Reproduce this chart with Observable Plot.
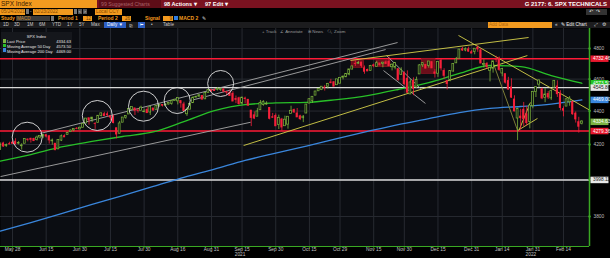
<!DOCTYPE html>
<html><head><meta charset="utf-8">
<script src="https://cdn.jsdelivr.net/npm/d3@7"></script>
<script src="https://cdn.jsdelivr.net/npm/@observablehq/plot@0.6"></script>
<style>
html,body{margin:0;padding:0;background:#000;}
body{width:610px;height:258px;overflow:hidden;position:relative;font-family:"Liberation Sans",Arial,sans-serif;}
.a{position:absolute;white-space:nowrap;line-height:1;}
.box{position:absolute;box-sizing:border-box;white-space:nowrap;}
#chart{position:absolute;left:0;top:28px;}
</style></head><body>
<!-- row 1 -->
<div class="box" style="left:0;top:0;width:610px;height:8px;background:#7a1220"></div>
<div class="box" style="left:0;top:0;width:97px;height:8px;background:#f29a1f;color:#3b1a00;font-size:6.5px;line-height:8px;padding-left:1px">SPX Index</div>
<div class="box" style="left:99px;top:0;width:62px;height:8px;background:#5e0d17;color:#a8626a;font-size:5.2px;line-height:8px;padding-left:2px">99 Suggested Charts</div>
<div class="box" style="left:164px;top:0;height:8px;color:#fff;font-size:5.6px;font-weight:bold;line-height:8px">98 Actions ▾</div>
<div class="box" style="left:205px;top:0;height:8px;color:#fff;font-size:5.6px;font-weight:bold;line-height:8px">97 Edit ▾</div>
<div class="box" style="right:3px;top:0;height:8px;color:#fff;font-size:6px;font-weight:bold;line-height:8px">G 2177: 6. SPX TECHNICALS</div>
<!-- row 2 -->
<div class="box" style="left:0;top:8.5px;width:25px;height:6px;background:#f29a1f;color:#8a4c00;font-size:4.8px;line-height:6px;padding-left:1px">05/24/2021</div>
<div class="box" style="left:26px;top:9px;width:3px;height:5px;background:#777"></div>
<div class="a" style="left:30px;top:9.5px;color:#ddd;font-size:4.8px">-</div>
<div class="box" style="left:33px;top:8.5px;width:40px;height:6px;background:#f29a1f;color:#8a4c00;font-size:4.8px;line-height:6px;padding-left:1px">02/23/2022</div>
<div class="box" style="left:74px;top:9px;width:3px;height:5px;background:#777"></div>
<div class="box" style="left:78px;top:9px;width:4px;height:5px;background:#555;color:#ddd;font-size:4px;line-height:5px;text-align:center">&lt;</div>
<div class="box" style="left:83px;top:9px;width:4px;height:5px;background:#555;color:#ddd;font-size:4px;line-height:5px;text-align:center">&gt;</div>
<div class="box" style="left:95px;top:8.5px;width:27px;height:6px;background:#f29a1f;color:#8a4c00;font-size:4.8px;line-height:6px;padding-left:1px">Local CCY</div>
<div class="box" style="left:586px;top:8.5px;width:21px;height:6px;background:#333;color:#ddd;font-size:4.6px;line-height:6px;padding-left:3px">↶&nbsp;&nbsp;↷</div>
<!-- row 3 -->
<div class="a" style="left:1px;top:16px;color:#f29a1f;font-size:5px;font-weight:bold">Study</div>
<div class="box" style="left:16px;top:15.5px;width:34px;height:5px;background:#3a3a3a;color:#c98a2a;font-size:4.6px;line-height:5px;padding-left:1px">MACD</div>
<div class="box" style="left:51px;top:15.5px;width:3px;height:5px;background:#777"></div>
<div class="a" style="left:58px;top:16px;color:#f29a1f;font-size:5px;font-weight:bold">Period 1</div>
<div class="box" style="left:83px;top:15.5px;width:9px;height:5px;background:#f29a1f;color:#6a3a00;font-size:4.6px;line-height:5px;text-align:right;padding-right:1px">12</div>
<div class="a" style="left:98px;top:16px;color:#f29a1f;font-size:5px;font-weight:bold">Period 2</div>
<div class="box" style="left:122px;top:15.5px;width:9px;height:5px;background:#f29a1f;color:#6a3a00;font-size:4.6px;line-height:5px;text-align:right;padding-right:1px">26</div>
<div class="a" style="left:145px;top:16px;color:#f29a1f;font-size:5px;font-weight:bold">Signal</div>
<div class="box" style="left:163px;top:15.5px;width:10px;height:5px;background:#f29a1f;color:#6a3a00;font-size:4.6px;line-height:5px;text-align:right;padding-right:1px">9</div>
<div class="box" style="left:174px;top:16px;width:3.5px;height:3.5px;background:#2f7de0"></div>
<div class="a" style="left:179px;top:16px;color:#f29a1f;font-size:5px;font-weight:bold">MACD 2</div>
<div class="a" style="left:202px;top:15.5px;color:#ddd;font-size:5px">✎</div>
<!-- row 4 -->
<div class="box" style="left:0;top:21.5px;width:610px;height:7px;background:#1c1c1e"></div>
<div class="a" id="ranges" style="left:0;top:23px;color:#c8c8c8;font-size:4.6px"></div>
<div class="box" style="left:104px;top:22px;width:22px;height:6px;background:#2d5fc4;color:#fff;font-size:4.6px;line-height:6px;padding-left:3px">Daily ▼</div>
<div class="a" style="left:129px;top:22.5px;color:#ccc;font-size:5px">⊵</div>
<div class="box" style="left:138px;top:22px;width:7px;height:6px;background:#2d5fc4;color:#fff;font-size:4px;line-height:6px;text-align:center">⊢</div>
<div class="a" style="left:151px;top:23px;color:#ccc;font-size:4.6px">•</div>
<div class="a" style="left:163px;top:23px;color:#c8c8c8;font-size:4.6px">Table</div>
<div class="box" style="left:488px;top:22px;width:64px;height:6px;background:#f29a1f;color:#b86a10;font-size:4.6px;line-height:6px;padding-left:1px">Add Data</div>
<div class="a" style="left:555px;top:23px;color:#ddd;font-size:4.6px">«</div>
<div class="a" style="left:561px;top:23px;color:#eee;font-size:4.6px">✎ Edit Chart</div>
<div class="a" style="left:594px;top:23px;color:#ddd;font-size:4.6px">⤢</div>
<div class="a" style="left:602px;top:23px;color:#ddd;font-size:4.6px">⚙</div>

<div id="chart"></div>
<div class="a" style="left:262px;top:30px;color:#9a9a9a;font-size:4.4px">+ Track&nbsp;&nbsp;&nbsp;∠ Annotate</div>
<div class="a" style="left:308px;top:30px;color:#9a9a9a;font-size:4.4px">⊞ News&nbsp;&nbsp;&nbsp;🔍︎ Zoom</div>
<div id="legend" class="box" style="left:1px;top:32px;width:71px;height:21px;background:#15171c;color:#e4e4e4;font-size:4.1px"></div>

<script>
// ---------- data (S&P 500 daily candles, 2021-05-24 .. 2022-02-23, one entry per trading day) ----------
const opens = [
4170.16,4205.94,4191.59,4201.94,4210.77,
4216.52,4206.82,4191.43,4206.05,4229.34,4233.81,4232.99,4228.56,4242.90,4248.31,4255.28,4248.87,4220.37,4204.78,4173.40,4224.61,4249.27,4256.97,4274.45,4284.90,4293.21,4290.65,
4300.73,4326.60,4356.46,4351.01,4321.07,4329.38,4372.41,4381.07,4380.11,4369.02,4367.43,4296.40,4265.11,4331.13,4361.27,4381.20,4409.58,4416.38,4402.95,4403.59,4395.12,
4406.86,4392.74,4415.95,4408.86,4429.07,4437.77,4435.79,4442.18,4446.08,4464.84,4461.65,4462.12,4440.94,4382.44,4410.56,4450.29,4484.40,4490.45,4493.75,4474.10,4513.76,4529.75,
4528.80,4534.48,4532.42,4535.38,4518.09,4513.02,4506.92,4474.81,4479.33,4447.49,4477.09,4469.74,4402.95,4374.45,4367.43,4406.75,4438.04,4442.12,4419.54,4362.41,4370.67,
4317.16,4348.84,4309.87,4319.57,4383.73,4406.51,4385.44,4368.31,4358.01,4386.75,4447.69,4463.72,4497.34,4524.42,4532.24,4546.12,4553.69,4578.69,4580.22,4562.84,4572.87,
4610.62,4613.34,4630.65,4662.93,4699.26,4701.48,4707.25,4670.26,4659.39,4655.24,4689.30,4679.42,4701.50,4700.72,4708.44,4712.00,4678.48,4675.78,4664.63,4628.75,4640.25,
4602.82,4504.73,4589.49,4548.37,4631.97,4690.86,4691.00,4687.64,4710.30,4642.99,4636.46,4719.13,4652.50,4587.90,4594.96,4650.36,4703.96,4733.99,4795.49,4788.64,4794.23,4775.21,
4778.14,4804.51,4787.99,4693.39,4697.66,4655.34,4669.14,4728.59,4733.56,4637.99,4632.24,4588.03,4547.35,4471.38,4356.32,4366.64,4408.43,4380.58,4336.19,4431.79,
4519.57,4566.39,4535.41,4482.79,4505.75,4480.02,4547.00,4553.24,4506.27,4412.61,4429.28,4455.75,4456.06,4384.57,4332.74,4324.99];
const highs = [
4209.52,4213.42,4202.61,4213.38,4218.36,
4234.12,4217.37,4204.39,4233.45,4232.34,4236.74,4237.09,4249.74,4248.38,4255.59,4257.16,4251.89,4232.29,4204.78,4226.24,4255.84,4256.60,4271.28,4286.12,4292.14,4300.52,4302.43,
4320.66,4355.43,4356.46,4361.88,4330.88,4371.60,4386.68,4392.37,4393.68,4369.02,4375.09,4296.40,4336.84,4359.70,4369.87,4415.18,4422.73,4416.38,4415.47,4429.97,4412.25,
4422.18,4423.79,4416.17,4429.76,4440.82,4439.39,4445.21,4449.44,4461.77,4468.37,4480.26,4462.12,4454.32,4418.61,4444.35,4489.88,4492.81,4501.71,4495.90,4513.33,4537.36,4531.39,
4537.11,4545.85,4541.45,4535.38,4521.79,4529.90,4520.47,4492.99,4485.68,4486.87,4485.87,4471.52,4402.95,4394.87,4416.75,4465.40,4463.12,4457.30,4419.54,4385.57,4382.55,
4375.19,4355.51,4369.23,4365.57,4429.97,4412.02,4415.88,4374.89,4372.87,4439.73,4475.82,4488.75,4520.40,4540.87,4551.44,4559.67,4572.62,4598.53,4584.57,4597.55,4608.08,
4620.34,4635.15,4663.46,4683.00,4718.50,4714.92,4708.53,4684.85,4664.55,4688.47,4697.42,4714.95,4701.50,4708.80,4717.75,4743.83,4699.39,4702.87,4664.63,4672.95,4646.02,
4652.94,4595.46,4608.03,4612.60,4694.04,4705.06,4695.26,4713.57,4710.30,4660.47,4712.60,4731.99,4666.70,4587.90,4651.14,4697.67,4740.74,4791.49,4807.02,4804.06,4808.93,4786.83,
4796.64,4818.62,4797.70,4725.01,4707.95,4673.02,4714.13,4748.83,4744.13,4665.13,4632.24,4611.55,4602.11,4494.52,4417.35,4411.01,4453.23,4428.74,4432.72,4516.89,
4550.49,4595.31,4542.88,4539.66,4521.86,4531.32,4590.03,4588.92,4526.33,4426.22,4472.77,4489.55,4456.06,4394.60,4362.12,4341.51];
const lows = [
4170.16,4182.52,4184.11,4197.78,4203.57,
4197.59,4198.27,4167.93,4206.05,4215.66,4208.41,4218.74,4220.34,4232.25,4234.07,4238.35,4202.45,4196.05,4164.40,4173.40,4217.27,4241.43,4256.97,4271.16,4274.67,4287.04,4287.96,
4300.73,4326.60,4314.37,4329.79,4289.37,4329.38,4364.03,4366.92,4362.36,4340.70,4322.53,4233.13,4262.05,4331.13,4350.06,4381.20,4405.45,4372.51,4387.01,4403.59,4389.65,
4384.81,4373.00,4400.23,4408.86,4429.07,4424.74,4430.03,4436.42,4435.96,4460.82,4437.66,4417.83,4397.59,4367.73,4406.80,4450.29,4482.28,4485.66,4468.99,4474.10,4513.76,4515.80,
4522.02,4524.66,4521.94,4513.00,4493.95,4492.07,4457.66,4445.70,4435.46,4438.37,4443.80,4427.76,4305.91,4347.96,4367.43,4406.75,4430.27,4436.19,4346.33,4355.08,4306.24,
4288.52,4278.94,4309.87,4290.49,4383.73,4386.22,4360.59,4342.09,4329.92,4386.75,4447.69,4447.47,4496.41,4524.40,4526.89,4524.00,4537.36,4569.17,4551.66,4562.84,4567.59,
4595.06,4613.34,4621.19,4662.59,4681.32,4694.39,4670.87,4630.86,4648.31,4650.77,4672.86,4679.42,4684.41,4672.78,4694.22,4682.17,4652.66,4659.89,4585.43,4625.26,4560.00,
4510.27,4504.73,4495.12,4540.51,4631.97,4674.52,4665.98,4670.24,4667.60,4606.52,4611.22,4651.89,4600.22,4531.10,4583.16,4645.53,4703.96,4733.99,4780.04,4778.08,4775.33,4765.75,
4758.17,4774.27,4699.44,4671.26,4662.74,4582.24,4638.27,4706.71,4650.29,4614.75,4568.70,4530.20,4477.95,4395.34,4222.62,4287.11,4304.80,4309.50,4292.46,4414.02,
4483.53,4544.32,4470.39,4451.50,4471.47,4465.40,4547.00,4484.31,4401.41,4364.84,4429.28,4429.68,4373.81,4327.22,4267.11,4316.00];
const closes = [
4197.05,4188.13,4195.99,4200.88,4204.11,
4202.04,4208.12,4192.85,4229.89,4226.52,4227.26,4219.55,4239.18,4247.44,4255.15,4246.59,4223.70,4221.86,4166.45,4224.79,4246.44,4241.84,4266.49,4280.70,4290.61,4291.80,4297.50,
4319.94,4352.34,4343.54,4358.13,4320.82,4369.55,4384.63,4369.21,4374.30,4360.03,4327.16,4258.49,4323.06,4358.69,4367.48,4411.79,4422.30,4401.46,4400.64,4419.15,4395.26,
4387.16,4423.15,4402.66,4429.10,4436.52,4432.35,4436.75,4447.70,4460.83,4468.00,4479.71,4448.08,4400.27,4405.80,4441.67,4479.53,4486.23,4496.19,4470.00,4509.37,4528.79,4522.68,
4524.09,4536.95,4535.43,4520.03,4514.07,4493.28,4458.58,4468.73,4443.05,4480.70,4473.75,4432.99,4357.73,4354.19,4395.64,4448.98,4455.48,4443.11,4352.63,4359.46,4307.54,
4357.04,4300.46,4345.72,4363.55,4399.76,4391.34,4361.19,4350.65,4363.80,4438.26,4471.37,4486.46,4519.63,4536.19,4549.78,4544.90,4566.48,4574.79,4551.68,4596.42,4605.38,
4613.67,4630.65,4660.57,4680.06,4697.53,4701.70,4685.25,4646.71,4649.27,4682.85,4682.80,4700.90,4688.67,4704.54,4697.96,4682.94,4690.70,4701.46,4594.62,4655.27,4567.00,
4513.04,4577.10,4538.43,4591.67,4686.75,4701.21,4667.45,4712.02,4668.97,4634.09,4709.85,4668.67,4620.64,4568.02,4649.23,4696.56,4725.79,4791.19,4786.35,4793.06,4778.73,4766.18,
4796.56,4793.54,4700.58,4696.05,4677.03,4670.29,4713.07,4726.35,4659.03,4662.85,4577.11,4532.76,4482.73,4397.94,4410.13,4356.45,4349.93,4326.51,4431.85,4515.55,
4546.54,4589.38,4477.44,4500.53,4483.87,4521.54,4587.18,4504.08,4418.64,4401.67,4471.07,4475.01,4380.26,4348.87,4304.76,4334.63];

const maIndex = [0,10,20,30,40,50,60,70,80,90,100,110,120,130,140,150,160,170,180,190];
const ma50  = [4104,4142,4186,4218,4247,4274,4336,4403,4440,4450,4453,4471,4496,4534,4578,4636,4688,4681,4623,4573.5];
const ma200 = [3723,3768,3815,3864,3912,3962,4013,4059,4108,4150,4191,4235,4277,4318,4354,4391,4416,4428,4443,4469];

// x-axis ticks (trading-day index) and labels
const tickIndex  = [4,15,26,36,47,58,69,79,90,101,111,122,132,143,154,164,174,184];
const tickLabels = ["May 28","Jun 15","Jun 30","Jul 15","Jul 30","Aug 16","Aug 31","Sep 15","Sep 30","Oct 15","Oct 29","Nov 15","Nov 30","Dec 15","Dec 31","Jan 14","Jan 31","Feb 14"];
const yearIndex  = [79,174];
const yearLabels = ["2021","2022"];
const yTicks = [3800,4000,4200,4400,4600,4800];

// horizontal levels
const redLevels   = [4732.46, 4279.36];
const whiteLevels = [4545.86, 3998.11];

// price tags on the right axis
const tagValues = [4732.46, 4573.50, 4545.86, 4469.00, 4334.63, 4279.36, 3998.11];
const tagKinds  = ["red","ma50","white","ma200","last","red","white"];

// hand-drawn annotations: [index1, price1, index2, price2]
const grayLines = [[13.1,4265,129.8,4840],[62.2,4465,125.9,4793],[0.1,4017,81.8,4332],[126.2,4753,137.3,4540],[125.2,4655,138.9,4447]];
const yellowLines = [[79.5,4194,172.2,4753],[114.4,4721,172.6,4874],[149.7,4888,192.8,4403],[169.1,4283,175.5,4355],[169.6,4290,173.2,4453]];
const oliveLines = [[161.1,4701,169.0,4283]];
const circleIndex = [8.8,31.7,46.8,57.8,72.0];
const circlePrice = [4243,4373,4430,4465,4572];
const boxes = [[114.8,4673,118.8,4716],[122.9,4677,127.5,4716],[137.8,4634,142.2,4732]];

// legend
const legendNames  = ["Last Price","Moving Average 50 Day","Moving Average 200 Day"];
const legendValues = ["4334.63","4573.50","4469.00"];
const rangeButtons = ["1D","3D","1M","6M","YTD","1Y","5Y","Max"];

// ---------- styles ----------
const BG = "#0b0d12", GRID = "#272a31", AXIS = "#3aa823";
const UP = "#7db53c", DOWN = "#f5203a";
const C50 = "#28c028", C200 = "#3a86dc", LASTC = "#7cb342";
const tagStyle = {
  red:   {bg:"#e8182d", fg:"#ffffff"},
  ma50:  {bg:"#22c422", fg:"#ffffff"},
  white: {bg:"#e8e8e8", fg:"#222222"},
  ma200: {bg:"#3a86dc", fg:"#ffffff"},
  last:  {bg:"#7cb342", fg:"#ffffff"}
};
const circleR = [15,15,15,13,13];
const rangeX = [3,14,27,39,52,67,79,91];
const legendColors = [LASTC, C50, C200];

// ---------- chrome ----------
document.getElementById("ranges").innerHTML = rangeButtons.map((t,i)=>`<span style="position:absolute;left:${rangeX[i]}px">${t}</span>`).join("");
document.getElementById("legend").innerHTML =
  `<div style="position:absolute;left:0;width:71px;top:1.5px;text-align:center">SPX Index</div>` +
  legendNames.map((n,i)=>`<div style="position:absolute;left:1.5px;top:${7+i*4.7}px;width:3.6px;height:3.6px;background:${legendColors[i]}"></div>
   <div style="position:absolute;left:6px;top:${7.2+i*4.7}px">${n}</div>
   <div style="position:absolute;right:1px;top:${7.2+i*4.7}px">${legendValues[i]}</div>`).join("");

// ---------- chart ----------
const W = 610, H = 230, MR = 21, MB = 12;
const X0 = 0.08, X1 = 192.5, Y0 = 3644.6, Y1 = 4935.4;
const pxX = px => X0 + px * (X1 - X0) / (W - MR);   // margin positions in x units
const tickLen = Y0 * Math.exp(-2.5 / 719);          // end of the small x ticks, just below the axis

const candles = d3.range(closes.length).map(i => ({i, o: opens[i], h: highs[i], l: lows[i], c: closes[i]}));
const upC = candles.filter(d => d.c >= d.o), dnC = candles.filter(d => d.c < d.o);
const ma50Data = maIndex.map((i,k) => ({i, v: ma50[k]}));
const ma200Data = maIndex.map((i,k) => ({i, v: ma200[k]}));
const ticks = tickIndex.map((i,k) => ({i, label: tickLabels[k]}));
const years = yearIndex.map((i,k) => ({i, label: yearLabels[k]}));
const tags = tagValues.map((v,k) => ({v, ...tagStyle[tagKinds[k]]}));
const circles = circleIndex.map((i,k) => ({i, v: circlePrice[k], r: circleR[k]}));
const seg = {x1: d => d[0], y1: d => d[1], x2: d => d[2], y2: d => d[3]};

const chart = Plot.plot({
  width: W, height: H,
  marginTop: 0, marginBottom: MB, marginLeft: 0, marginRight: MR,
  style: {background: "#000", color: "#c8c8c8", fontSize: "4.8px", fontFamily: "Liberation Sans, Arial, sans-serif", overflow: "visible"},
  x: {type: "linear", domain: [X0, X1], axis: null},
  y: {type: "log", domain: [Y0, Y1], axis: null},
  r: {type: "identity"},
  color: {type: "identity"},
  marks: [
    Plot.frame({fill: BG, stroke: "none"}),
    Plot.ruleX(tickIndex, {stroke: GRID, strokeWidth: 1}),
    Plot.ruleY(yTicks, {stroke: GRID, strokeWidth: 1}),
    Plot.ruleY(whiteLevels, {stroke: "#d9d9d9", strokeWidth: 1.4}),
    Plot.ruleY(redLevels, {stroke: "#ff1a36", strokeWidth: 1.4}),
    Plot.rect(boxes, {...seg, fill: "#7d0f1c", fillOpacity: 0.85, stroke: "#a01424", strokeWidth: 0.6}),
    Plot.line(ma200Data, {x: "i", y: "v", stroke: C200, strokeWidth: 1.3, curve: "monotone-x"}),
    Plot.line(ma50Data, {x: "i", y: "v", stroke: C50, strokeWidth: 1.3, curve: "monotone-x"}),
    Plot.link(grayLines, {...seg, stroke: "#a8a8a8", strokeWidth: 0.9}),
    Plot.link(oliveLines, {...seg, stroke: "#8a8a3c", strokeWidth: 0.9}),
    Plot.link(yellowLines, {...seg, stroke: "#d6d04a", strokeWidth: 0.9}),
    Plot.ruleX(upC, {x: "i", y1: "l", y2: "h", stroke: UP, strokeWidth: 0.8}),
    Plot.ruleX(dnC, {x: "i", y1: "l", y2: "h", stroke: DOWN, strokeWidth: 0.8}),
    Plot.rect(dnC, {x1: d => d.i - 0.34, x2: d => d.i + 0.34, y1: d => Math.min(d.o, d.c), y2: d => Math.max(d.o, d.c), fill: DOWN, insetTop: -0.4, insetBottom: -0.4}),
    Plot.rect(upC, {x1: d => d.i - 0.3, x2: d => d.i + 0.3, y1: d => Math.min(d.o, d.c), y2: d => Math.max(d.o, d.c), fill: BG, stroke: UP, strokeWidth: 0.7, insetTop: -0.3, insetBottom: -0.3}),
    Plot.dot(circles, {x: "i", y: "v", r: "r", stroke: "#e2e2e2", strokeWidth: 0.9, fill: "none"}),
    // axes
    Plot.ruleY([Y0], {stroke: AXIS, strokeWidth: 1.2}),
    Plot.ruleX([X1], {stroke: AXIS, strokeWidth: 1.5}),
    Plot.ruleX(ticks, {x: "i", y1: Y0, y2: tickLen, stroke: AXIS, strokeWidth: 0.8}),
    Plot.text(ticks, {x: "i", text: "label", frameAnchor: "bottom", dy: 4.5, fill: "#c4c4c4"}),
    Plot.text(years, {x: "i", text: "label", frameAnchor: "bottom", dy: 9.5, dx: -2, fill: "#c4c4c4"}),
    Plot.dot(yTicks, {y: d => d, frameAnchor: "right", r: 1.2, fill: AXIS}),
    Plot.text(yTicks, {y: d => d, text: d => String(d), frameAnchor: "right", dx: 4, textAnchor: "start", fill: "#bdbdbd"}),
    Plot.ruleY(tags, {y: "v", x1: pxX(W - MR + 1.5), x2: pxX(W - 1.5), stroke: "bg", strokeWidth: 6.5}),
    Plot.text(tags, {y: "v", text: d => d.v.toFixed(2), frameAnchor: "right", dx: 3.5, textAnchor: "start", fill: "fg"})
  ]
});
document.getElementById("chart").appendChild(chart);
</script>
</body></html>
